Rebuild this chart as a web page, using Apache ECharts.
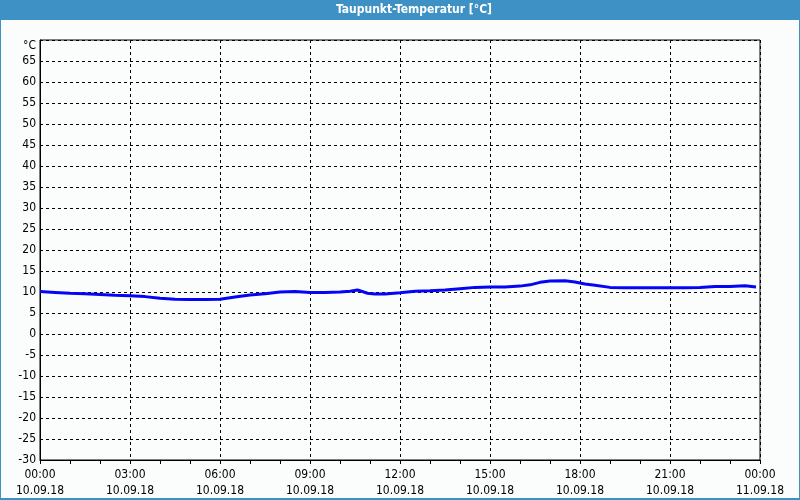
<!DOCTYPE html>
<html>
<head>
<meta charset="utf-8">
<script src="https://cdn.jsdelivr.net/npm/echarts@6/dist/echarts.min.js"></script>
<style>
html,body{margin:0;padding:0;background:#fbfdfc;}
#c{width:800px;height:500px;}
</style>
</head>
<body>
<div id="c"></div>
<script>
var titleText = 'Taupunkt-Temperatur [°C]';
var unitLabel = '°C';
var tickTimes = ['00:00','03:00','06:00','09:00','12:00','15:00','18:00','21:00','00:00'];
var tickDates = ['10.09.18','10.09.18','10.09.18','10.09.18','10.09.18','10.09.18','10.09.18','10.09.18','11.09.18'];
var times = ['00:00','00:30','01:00','01:30','02:00','02:30','03:00','03:30','04:00','04:30','05:00','05:30','06:00','06:30','07:00','07:30','08:00','08:30','09:00','09:30','10:00','10:20','10:35','10:55','11:10','11:30','12:00','12:30','13:00','13:30','14:00','14:30','15:00','15:30','16:00','16:20','16:40','17:00','17:30','17:50','18:10','18:30','19:00','19:30','20:00','20:30','21:00','21:30','22:00','22:30','23:00','23:30','23:52'];
var values = [10.1,9.9,9.7,9.6,9.4,9.2,9.1,8.9,8.5,8.3,8.2,8.2,8.3,8.8,9.3,9.6,10.0,10.1,9.9,9.9,10.0,10.2,10.5,9.7,9.5,9.5,9.8,10.2,10.3,10.5,10.8,11.1,11.2,11.2,11.4,11.7,12.3,12.6,12.7,12.4,11.9,11.6,11.1,11.0,11.0,11.0,11.0,11.0,11.1,11.3,11.3,11.5,11.2];

function toHours(s){var p=s.split(':');return (+p[0])+(+p[1])/60;}
var data = times.map(function(t,i){return [toHours(t), values[i]];});

var font = '"DejaVu Sans Condensed","DejaVu Sans",sans-serif';
var chart = echarts.init(document.getElementById('c'), null, {renderer:'canvas'});
chart.setOption({
  backgroundColor:'#fbfdfc',
  animation:false,
  grid:{left:40,right:40,top:40,bottom:40,show:true,borderColor:'#000',borderWidth:1,backgroundColor:'transparent'},
  xAxis:{
    type:'value',min:0,max:24,interval:3,
    axisLine:{show:true,onZero:false,lineStyle:{color:'#000',width:1}},
    axisTick:{show:true,length:4,lineStyle:{color:'#000'}},
    minorTick:{show:true,splitNumber:3,length:4,lineStyle:{color:'#000'}},
    splitLine:{show:true,lineStyle:{color:'#000',type:[3,3],width:1}},
    axisLabel:{color:'#000',fontFamily:font,fontSize:12,lineHeight:16,margin:7,
      formatter:function(v){var i=Math.round(v/3);return tickTimes[i]+'\n'+tickDates[i];}}
  },
  yAxis:{
    type:'value',min:-30,max:70,interval:5,
    axisLine:{show:true,onZero:false,lineStyle:{color:'#000',width:1}},
    axisTick:{show:false},
    splitLine:{show:true,lineStyle:{color:'#000',type:[3,3],width:1}},
    axisLabel:{color:'#000',fontFamily:font,fontSize:12,margin:4,padding:[3,0,0,0],
      formatter:function(v){return v===70?'':String(v);}}
  },
  series:[{
    type:'line',data:data,showSymbol:false,symbol:'none',
    lineStyle:{color:'#0505f5',width:3},
    z:5
  }],
  graphic:[
    {type:'rect',left:0,top:0,shape:{width:800,height:20},style:{fill:'#3d91c4'},silent:true},
    {type:'rect',left:0,top:0,shape:{width:1,height:500},style:{fill:'#3d91c4'},silent:true},
    {type:'rect',left:799,top:0,shape:{width:1,height:500},style:{fill:'#3d91c4'},silent:true},
    {type:'rect',left:0,top:498,shape:{width:800,height:2},style:{fill:'#3d91c4'},silent:true},
    {type:'text',x:36,y:46,style:{text:unitLabel,fill:'#000',font:'12px '+font,align:'right',verticalAlign:'middle'},silent:true},
    {type:'text',x:414,y:10,style:{text:titleText,fill:'#fff',font:'bold 12px '+font,align:'center',verticalAlign:'middle'},silent:true}
  ]
});
</script>
</body>
</html>
